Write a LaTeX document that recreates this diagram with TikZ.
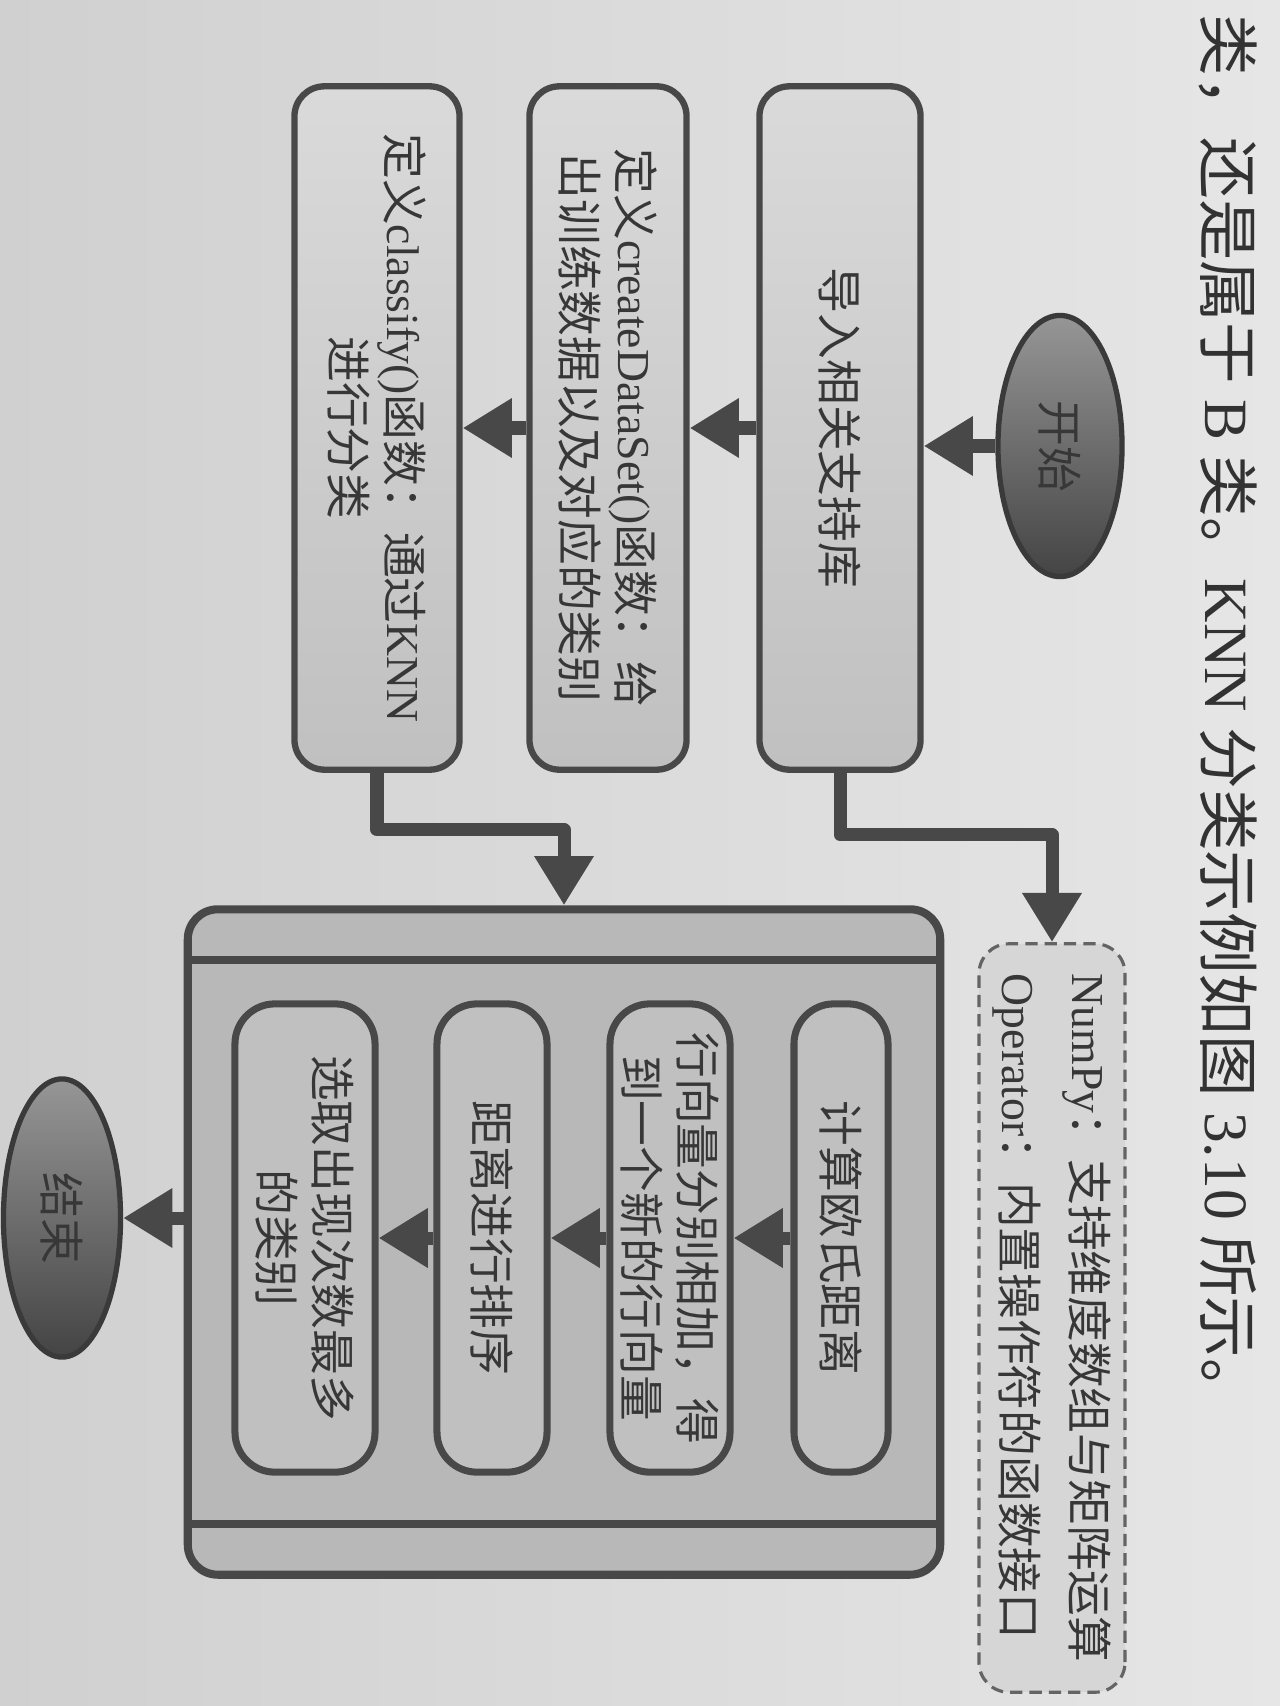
\documentclass[tikz,border=0pt]{standalone}
\usepackage{fontspec}
\setmainfont{Liberation Serif}
\newfontfamily\cjkfont{Noto Sans CJK SC}
\newcommand{\zh}[1]{{\cjkfont #1}}
\usetikzlibrary{arrows.meta,shapes.geometric}

\begin{document}
\begin{tikzpicture}[x=0.01cm,y=0.01cm,line join=round,
  flow/.style={draw=inkgray,line width=3.7pt,line cap=butt,-{Triangle[length=14pt,width=16pt]}},
  topbox/.style={draw=inkgray,line width=1.8pt,rounded corners=0.3cm,top color=boxlight,bottom color=boxdark,
    minimum width=6.83cm,inner sep=2pt,align=center,text=txtgray,font=\fontsize{13}{16}\selectfont},
  innerbox/.style={draw=inkgray,line width=2pt,rounded corners=0.4cm,fill=innerfill,
    minimum width=4.68cm,inner sep=2pt,align=center,text=txtgray,font=\fontsize{13}{16}\selectfont},
  notebox/.style={draw=notegray,dash pattern=on 3.5pt off 2pt,line width=0.9pt,rounded corners=0.3cm,fill=notefill,
    minimum width=7.48cm,minimum height=1.46cm,align=left,text=txtgray,font=\fontsize{13}{20}\selectfont},
  framebox/.style={draw=inkgray,line width=2.3pt,rounded corners=0.3cm,fill=framefill,
    minimum width=6.65cm,minimum height=7.52cm},
  terminal/.style={ellipse,draw=ovaledge,line width=1.5pt,top color=ovallight,bottom color=ovaldark,
    minimum width=2.61cm,minimum height=1.24cm,inner sep=0pt,text=txtgray,font=\fontsize{13}{16}\selectfont},
  stripline/.style={draw=inkgray,line width=2.3pt},
  pagetext/.style={text=pagetxt,font=\fontsize{17.5}{20}\selectfont,inner sep=0pt}]

  \definecolor{paperleft}{RGB}{208,208,208}
  \definecolor{paperright}{RGB}{230,230,230}
  \definecolor{boxlight}{RGB}{218,218,218}
  \definecolor{boxdark}{RGB}{192,192,192}
  \definecolor{innerfill}{RGB}{192,192,192}
  \definecolor{framefill}{RGB}{184,184,184}
  \definecolor{notefill}{RGB}{214,214,214}
  \definecolor{notegray}{RGB}{100,100,100}
  \definecolor{inkgray}{RGB}{72,72,72}
  \definecolor{txtgray}{RGB}{55,55,55}
  \definecolor{pagetxt}{RGB}{50,50,50}
  \definecolor{ovaldark}{RGB}{68,68,68}
  \definecolor{ovallight}{RGB}{150,150,150}
  \definecolor{ovaledge}{RGB}{58,58,58}

  % ---- paper ----
  \useasboundingbox (0,0) rectangle (1280,-1706);
  \shade[left color=paperleft,right color=paperright] (0,0) rectangle (1280,-1706);

  % ---- page turned a quarter: (distance from top, distance from left) ----
  \begin{scope}[rotate=-90,transform shape]

    % ---- running text of the book ----
    \node[pagetext,anchor=west] (caption) at (14,1228)
      {\zh{类，还是属于} B \zh{类。}KNN \zh{分类示例如图} 3.10 \zh{所示。}};

    % ---- start + preparation steps ----
    \node[terminal] (start) at (446,1060) {\zh{开始}};
    \node[topbox,minimum height=1.61cm] (load) at (428,840) {\zh{导入相关支持库}};
    \node[topbox,minimum height=1.57cm] (dataset) at (428,608)
      {\zh{定义}createDataSet()\zh{函数：给}\\\zh{出训练数据以及对应的类别}};
    \node[topbox,minimum height=1.65cm] (classify) at (428,377)
      {\zh{定义}classify()\zh{函数：通过}KNN\\\zh{进行分类}};

    % ---- library note ----
    \node[notebox] (libs) at (1318,1052)
      {NumPy\zh{：支持维度数组与矩阵运算}\\Operator\zh{：内置操作符的函数接口}};

    % ---- classify() body ----
    \node[framebox] (frame) at (1242,564) {};
    \draw[stripline] (960,188) -- (960,940);
    \draw[stripline] (1524,188) -- (1524,940);

    \node[innerbox,minimum height=0.94cm] (dist) at (1238,841) {\zh{计算欧氏距离}};
    \node[innerbox,minimum height=1.20cm] (rowsum) at (1238,670)
      {\zh{行向量分别相加，得}\\\zh{到一个新的行向量}};
    \node[innerbox,minimum height=1.10cm] (sort) at (1238,492) {\zh{距离进行排序}};
    \node[innerbox,minimum height=1.40cm] (pick) at (1238,305)
      {\zh{选取出现次数最多}\\\zh{的类别}};

    \node[terminal,minimum width=2.78cm,minimum height=1.17cm] (finish) at (1218,62) {\zh{结束}};

    % ---- connectors ----
    \draw[flow] (start.south) -- (start.south |- load.north);
    \draw[flow] (load.south) -- (dataset.north);
    \draw[flow] (dataset.south) -- (classify.north);
    \draw[flow] (load.east) -- ++(62,0) |- (libs.west);
    \draw[flow] (classify.east) -- ++(57,0) |- (frame.west);
    \draw[flow] (dist.south) -- (rowsum.north);
    \draw[flow] (rowsum.south) -- (sort.north);
    \draw[flow] (sort.south) -- (pick.north);
    \draw[flow] (finish.north |- frame.south) -- (finish.north);

  \end{scope}

\end{tikzpicture}
\end{document}
